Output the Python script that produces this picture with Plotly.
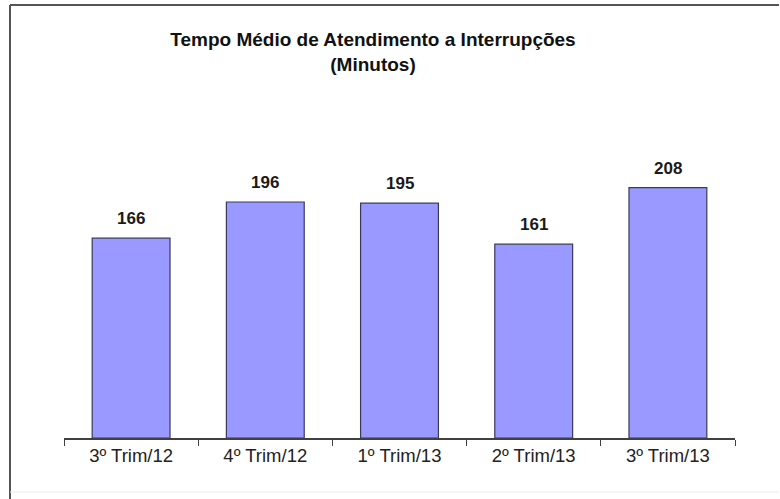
import plotly.graph_objects as go

# Dados do gráfico
trimestres = ["3º Trim/12", "4º Trim/12", "1º Trim/13", "2º Trim/13", "3º Trim/13"]
minutos = [166, 196, 195, 161, 208]

W, H = 780, 499
L, R, T, B = 64, 45, 137, 61

def px_x(x):
    return (x - L) / (W - L - R)

def px_y(y):
    return (H - B - y) / (H - T - B)

fig = go.Figure()

fig.add_trace(go.Bar(
    x=trimestres, y=minutos,
    marker=dict(color="#9999FF", line=dict(color="#3a3a5c", width=1.2)),
    hoverinfo="x+y",
))

# Rótulos de valor acima das barras
for cat, val in zip(trimestres, minutos):
    fig.add_annotation(
        x=cat, y=val, text=f"<b>{val}</b>", showarrow=False,
        yanchor="bottom", yshift=8,
        font=dict(family="Liberation Sans, Arial", size=17, color="#1a1a1a"),
    )

# Moldura do gráfico (como no Excel)
fig.add_shape(type="line", xref="paper", yref="paper",
              x0=px_x(10), x1=px_x(779), y0=px_y(5), y1=px_y(5),
              line=dict(color="#555555", width=2))
fig.add_shape(type="line", xref="paper", yref="paper",
              x0=px_x(10), x1=px_x(10), y0=px_y(5), y1=px_y(499),
              line=dict(color="#555555", width=2))
fig.add_shape(type="line", xref="paper", yref="paper",
              x0=px_x(10), x1=px_x(779), y0=px_y(492), y1=px_y(492),
              line=dict(color="#eeeeee", width=1))

fig.update_layout(
    width=W, height=H,
    margin=dict(l=L, r=R, t=T, b=B),
    paper_bgcolor="white", plot_bgcolor="white",
    bargap=0.42,
    showlegend=False,
    title=dict(
        text="<b>Tempo Médio de Atendimento a Interrupções<br>(Minutos)</b>",
        x=373 / W, xanchor="center", y=1 - 46 / H, yanchor="top",
        font=dict(family="Liberation Sans, Arial", size=19, color="#111111"),
    ),
    font=dict(family="Liberation Sans, Arial", color="#222222"),
)

fig.update_xaxes(
    showline=True, linecolor="#404040", linewidth=1.5,
    ticks="outside", tickson="boundaries", ticklen=6, tickcolor="#404040",
    tickfont=dict(size=18.5, color="#222222"),
    showgrid=False,
)
fig.update_yaxes(range=[0, 250], visible=False, showgrid=False)

fig.write_html("out.html", config={"displayModeBar": False},
               post_script="document.body.style.margin = '0';")
